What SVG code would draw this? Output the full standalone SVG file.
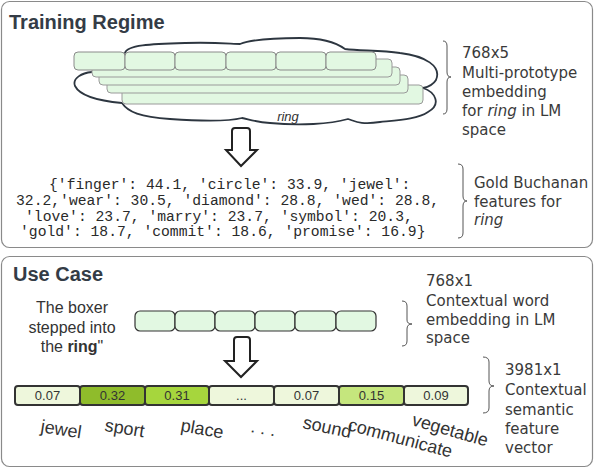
<svg xmlns="http://www.w3.org/2000/svg" width="594" height="468" viewBox="0 0 594 468">
<style>
.panel{fill:#fff;stroke:#8a8a8a;stroke-width:1.2}
.title{font-family:"Liberation Sans",Arial,sans-serif;font-weight:bold;font-size:20px;fill:#343c46}
.note{font-family:"DejaVu Sans",sans-serif;font-size:15px;fill:#3a3a3a}
.body{font-family:"Liberation Sans",Arial,sans-serif;font-size:16px;fill:#333}
.mono{font-family:"Liberation Mono","Courier New",monospace;font-size:14.7px;fill:#2a2a2a}
.lbl{font-family:"Liberation Sans",Arial,sans-serif;font-size:18px;fill:#333}
.val{font-family:"Liberation Sans",Arial,sans-serif;font-size:13px;fill:#333;text-anchor:middle}
.brace{fill:none;stroke:#555;stroke-width:1}
.cell{fill:#e2f8e2;stroke:#8a8a8a;stroke-width:1}
.strip{fill:#e2f8e2;stroke:#9a9a9a;stroke-width:1}
.ecell{fill:#e2f8e2;stroke:#333;stroke-width:1.2}
.fcell{stroke:#333;stroke-width:2}
.arrow{fill:#fff;stroke:#222;stroke-width:2;stroke-linejoin:miter}
</style>
<rect class="panel" x="1.5" y="1.5" width="591" height="246" rx="8"/>
<rect class="panel" x="1.5" y="256.5" width="591" height="210" rx="8"/>
<text class="title" x="9" y="29">Training Regime</text>
<text class="title" x="13" y="281">Use Case</text>

<g id="embedding-stack">
<path d="M125,53 C127,45 150,44 185,43 C215,42 232,44 240,44 C250,40 275,38 300,38 C325,38 338,44 345,49 C360,51 380,50 400,53 C425,56 442,66 436,80 C433,85 428,87 423,88 C435,92 442,104 428,112 C418,119 400,120 380,122 C360,125 355,121 348,119 C330,124 300,126 270,123 C255,122 248,119 242,118 C230,121 200,121 170,119 C140,117 128,112 122,103 C100,101 80,96 75,86 C72,78 82,73 92,72 Z" fill="#fff" stroke="#2d3640" stroke-width="1.8"/>
<rect class="strip" x="122" y="85" width="301" height="19" rx="4"/>
<rect class="strip" x="107" y="75" width="301" height="18" rx="4"/>
<rect class="strip" x="99" y="67" width="301" height="18" rx="4"/>
<rect class="strip" x="92" y="59" width="300" height="18" rx="4" stroke="#333"/>
<rect class="cell" x="74" y="52" width="51" height="18" rx="4"/>
<rect class="cell" x="125" y="52" width="50" height="18" rx="4"/>
<rect class="cell" x="175" y="52" width="51" height="18" rx="4"/>
<rect class="cell" x="226" y="52" width="50" height="18" rx="4"/>
<rect class="cell" x="276" y="52" width="50" height="18" rx="4"/>
<rect class="cell" x="326" y="52" width="50" height="18" rx="4"/>
<text x="288" y="121" font-family="Liberation Sans, Arial, sans-serif" font-size="13" font-style="italic" fill="#333" text-anchor="middle">ring</text>
</g>

<g id="note-multiproto">
<path class="brace" d="M443,41 Q447,41 447,46 L447,72 Q447,77 451,77 Q447,77 447,82 L447,109 Q447,114 443,114"/>
<text class="note" x="462" y="58">768x5</text>
<text class="note" x="462" y="78">Multi-prototype</text>
<text class="note" x="462" y="97">embedding</text>
<text class="note" x="462" y="116">for <tspan font-style="italic">ring</tspan> in LM</text>
<text class="note" x="462" y="135">space</text>
</g>

<g id="connectors">
<path class="arrow" d="M232,131 Q232,128 235,128 L247,128 Q250,128 250,131 L250,150 L257,150 L241,166 L226,150 L232,150 Z"/>
<path class="arrow" d="M234,340 Q234,337 237,337 L247,337 Q250,337 250,340 L250,361 L257,361 L241,377 L225,361 L234,361 Z"/>
</g>

<g id="gold-features">
<text class="mono" x="49" y="189">{'finger': 44.1, 'circle': 33.9, 'jewel':</text>
<text class="mono" x="16" y="205">32.2,'wear': 30.5, 'diamond': 28.8, 'wed': 28.8,</text>
<text class="mono" x="25" y="221">'love': 23.7, 'marry': 23.7, 'symbol': 20.3,</text>
<text class="mono" x="20" y="236">'gold': 18.7, 'commit': 18.6, 'promise': 16.9}</text>
</g>

<g id="note-gold">
<path class="brace" d="M458,164 Q463,164 463,169 L463,196 Q463,201 467,201 Q463,201 463,206 L463,233 Q463,238 458,238"/>
<text class="note" x="474" y="188">Gold Buchanan</text>
<text class="note" x="474" y="207">features for</text>
<text class="note" x="474" y="225" font-style="italic">ring</text>
</g>

<g id="sentence">
<text class="body" text-anchor="middle" x="72" y="313">The boxer</text>
<text class="body" text-anchor="middle" x="72" y="333">stepped into</text>
<text class="body" text-anchor="middle" x="72" y="352">the <tspan font-weight="bold">ring</tspan>"</text>
</g>

<g id="contextual-embedding">
<rect class="ecell" x="135" y="311" width="40" height="20" rx="5"/>
<rect class="ecell" x="175" y="311" width="40" height="20" rx="5"/>
<rect class="ecell" x="215" y="311" width="40" height="20" rx="5"/>
<rect class="ecell" x="255" y="311" width="40" height="20" rx="5"/>
<rect class="ecell" x="295" y="311" width="41" height="20" rx="5"/>
<rect class="ecell" x="336" y="311" width="40" height="20" rx="5"/>
</g>

<g id="note-contextual">
<path class="brace" d="M402,301 Q407,301 407,306 L407,320 Q407,324 412,324 Q407,324 407,329 L407,341 Q407,346 402,346"/>
<text class="note" x="426" y="286">768x1</text>
<text class="note" x="426" y="306">Contextual word</text>
<text class="note" x="426" y="325">embedding in LM</text>
<text class="note" x="426" y="343">space</text>
</g>

<g id="feature-vector">
<rect class="fcell" x="15" y="386" width="65" height="19" rx="3" fill="#eef7dc"/>
<rect class="fcell" x="80" y="386" width="65" height="19" rx="3" fill="#8fbc2b"/>
<rect class="fcell" x="145" y="386" width="64" height="19" rx="3" fill="#a6d63d"/>
<rect class="fcell" x="209" y="386" width="65" height="19" rx="3" fill="#eef7dc"/>
<rect class="fcell" x="274" y="386" width="65" height="19" rx="3" fill="#eef7dc"/>
<rect class="fcell" x="339" y="386" width="65" height="19" rx="3" fill="#c5e67d"/>
<rect class="fcell" x="404" y="386" width="64" height="19" rx="3" fill="#eef7dc"/>
<text class="val" x="47.5" y="400">0.07</text>
<text class="val" x="112.5" y="400">0.32</text>
<text class="val" x="177" y="400">0.31</text>
<text class="val" x="241.5" y="400">...</text>
<text class="val" x="306.5" y="400">0.07</text>
<text class="val" x="371.5" y="400">0.15</text>
<text class="val" x="436" y="400">0.09</text>
<text class="lbl" transform="translate(40,432) rotate(9)">jewel</text>
<text class="lbl" transform="translate(104,431) rotate(9)">sport</text>
<text class="lbl" transform="translate(180,431) rotate(10)">place</text>
<text class="lbl" transform="translate(250,432) rotate(10)">. . .</text>
<text class="lbl" transform="translate(302,428) rotate(12)">sound</text>
<text class="lbl" transform="translate(347,430) rotate(15)">communicate</text>
<text class="lbl" transform="translate(411,425) rotate(16)">vegetable</text>
</g>

<g id="note-feature">
<path class="brace" d="M483,357 Q489,357 489,362 L489,381 Q489,386 494,386 Q489,386 489,391 L489,408 Q489,413 483,413"/>
<text class="note" x="505" y="375">3981x1</text>
<text class="note" x="505" y="395">Contextual</text>
<text class="note" x="505" y="415">semantic</text>
<text class="note" x="505" y="434">feature</text>
<text class="note" x="505" y="453">vector</text>
</g>
</svg>
